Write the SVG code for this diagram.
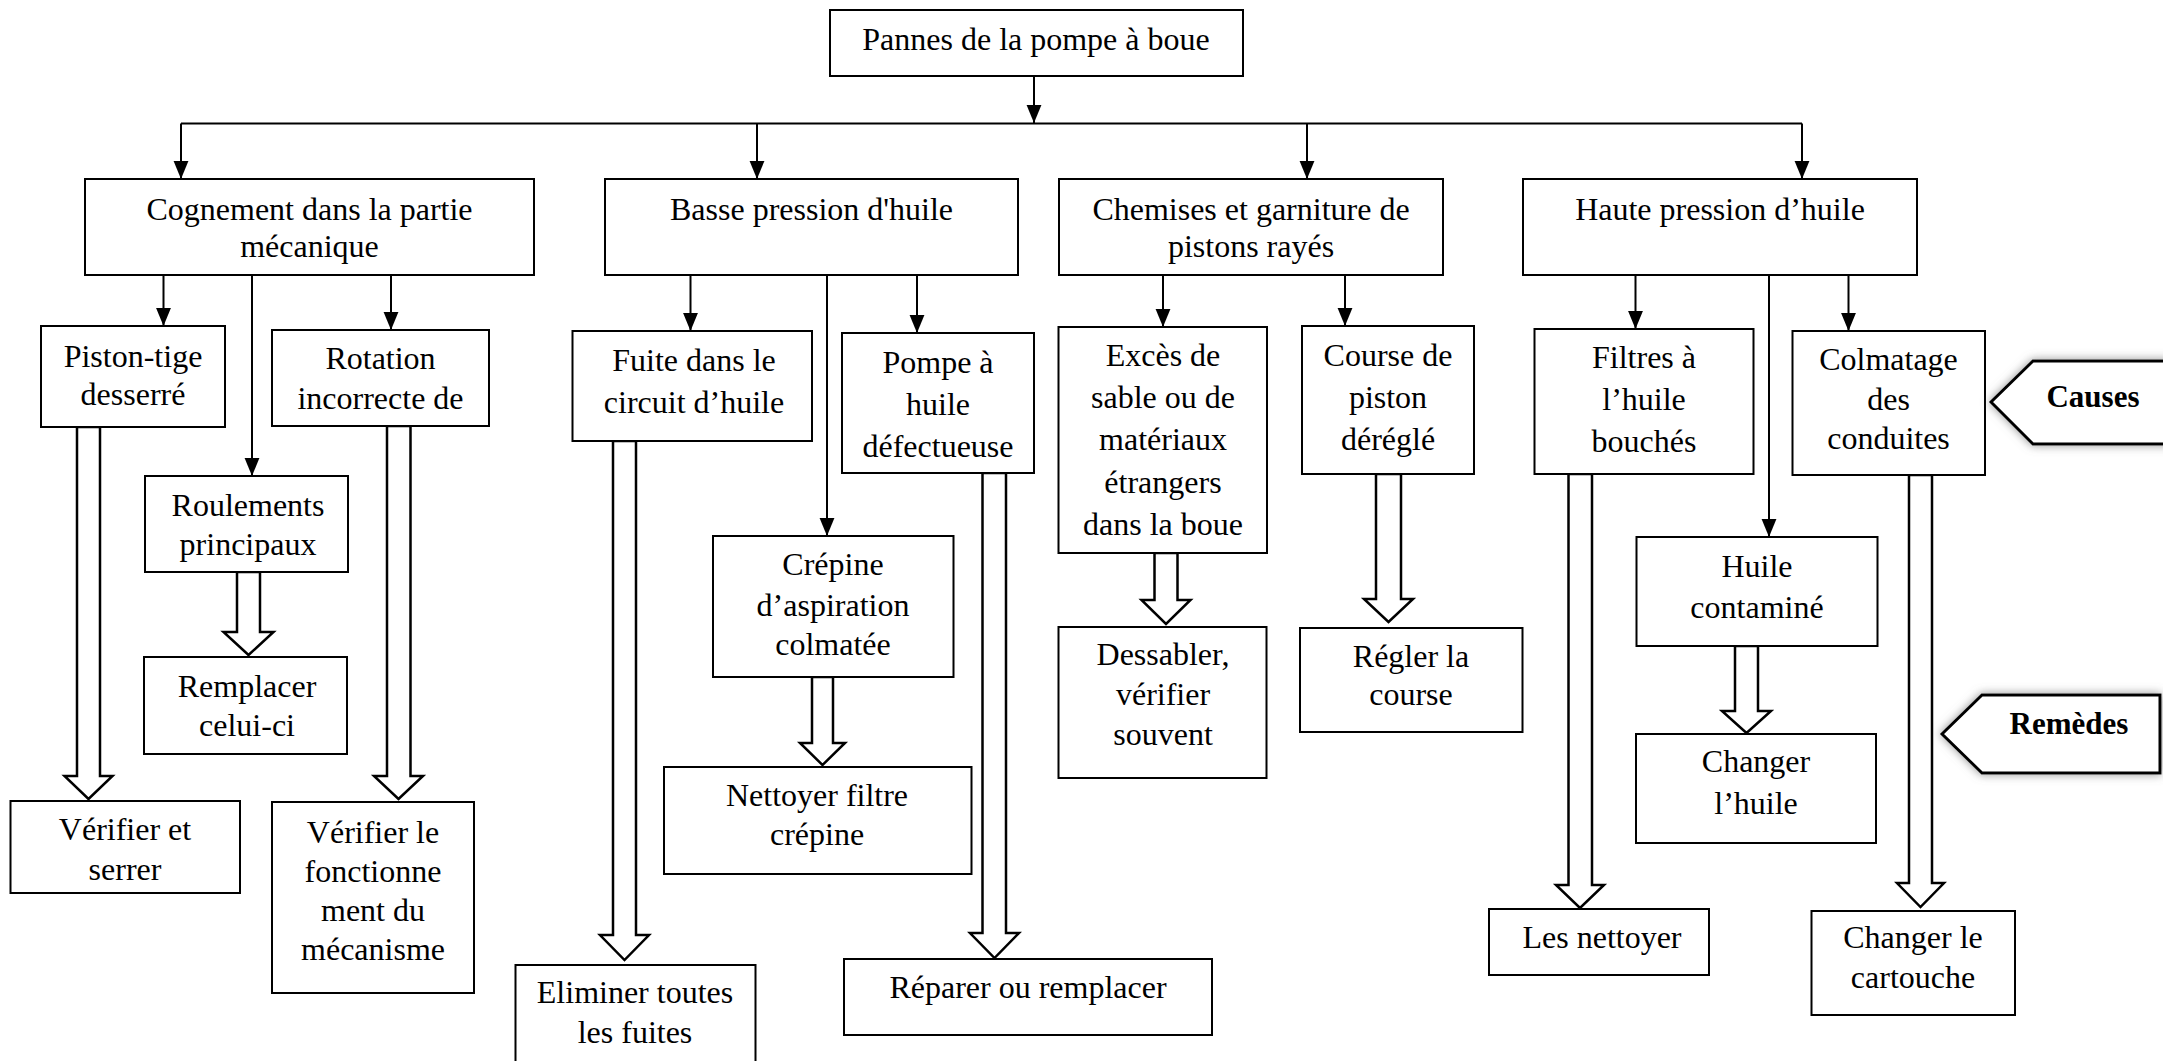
<svg xmlns="http://www.w3.org/2000/svg" width="2163" height="1061" viewBox="0 0 2163 1061">
<style>
.box{fill:#fff;stroke:#000;stroke-width:2}
.t{font-family:"Liberation Serif","Times New Roman",serif;font-size:32px;fill:#000;text-anchor:middle}
.lbl{font-family:"Liberation Serif","Times New Roman",serif;font-size:31px;font-weight:bold;fill:#000;text-anchor:middle}
.ln{fill:none;stroke:#000;stroke-width:2}
.hol{fill:#fff;stroke:#000;stroke-width:2.5;stroke-linejoin:miter}
.tag{fill:#fff;stroke:#000;stroke-width:3;filter:url(#sh)}
</style>
<defs>
<marker id="ah" markerUnits="userSpaceOnUse" markerWidth="18" markerHeight="16" refX="17" refY="7" orient="auto" viewBox="0 0 17 14">
<path d="M0,0 L17,7 L0,14 Z" fill="#000"/>
</marker>
<filter id="sh" x="-20%" y="-40%" width="140%" height="180%">
<feDropShadow dx="0" dy="0" stdDeviation="5" flood-color="#777" flood-opacity="0.8"/>
</filter>
</defs>
<rect width="2163" height="1061" fill="#fff"/>

<g id="connectors">
<line class="ln" x1="1034" y1="76" x2="1034" y2="123" marker-end="url(#ah)"/>
<line class="ln" x1="181" y1="123.5" x2="1802" y2="123.5"/>
<line class="ln" x1="181" y1="123.5" x2="181" y2="179" marker-end="url(#ah)"/>
<line class="ln" x1="757" y1="123.5" x2="757" y2="179" marker-end="url(#ah)"/>
<line class="ln" x1="1307" y1="123.5" x2="1307" y2="179" marker-end="url(#ah)"/>
<line class="ln" x1="1802" y1="123.5" x2="1802" y2="179" marker-end="url(#ah)"/>
<line class="ln" x1="163.5" y1="275" x2="163.5" y2="326" marker-end="url(#ah)"/>
<line class="ln" x1="252" y1="275" x2="252" y2="476" marker-end="url(#ah)"/>
<line class="ln" x1="391" y1="275" x2="391" y2="330" marker-end="url(#ah)"/>
<line class="ln" x1="690.5" y1="275" x2="690.5" y2="331" marker-end="url(#ah)"/>
<line class="ln" x1="827" y1="275" x2="827" y2="536" marker-end="url(#ah)"/>
<line class="ln" x1="917" y1="275" x2="917" y2="333" marker-end="url(#ah)"/>
<line class="ln" x1="1163" y1="275" x2="1163" y2="327" marker-end="url(#ah)"/>
<line class="ln" x1="1345" y1="275" x2="1345" y2="326" marker-end="url(#ah)"/>
<line class="ln" x1="1635.5" y1="275" x2="1635.5" y2="329" marker-end="url(#ah)"/>
<line class="ln" x1="1769" y1="275" x2="1769" y2="537" marker-end="url(#ah)"/>
<line class="ln" x1="1848.5" y1="275" x2="1848.5" y2="331" marker-end="url(#ah)"/>

<path class="hol" d="M77,427 L77,776 L64.5,776 L88.5,799 L112.5,776 L100,776 L100,427 Z"/>
<path class="hol" d="M387,426 L387,776 L374,776 L398.5,799 L423,776 L410.5,776 L410.5,426 Z"/>
<path class="hol" d="M237,572 L237,632 L223.5,632 L248.5,655 L273.5,632 L260,632 L260,572 Z"/>
<path class="hol" d="M613,441 L613,935 L600,935 L624.5,960 L649,935 L636,935 L636,441 Z"/>
<path class="hol" d="M812,677 L812,743 L800,743 L822.5,765 L845,743 L833,743 L833,677 Z"/>
<path class="hol" d="M982.5,473 L982.5,933 L970,933 L994.5,958 L1019,933 L1006,933 L1006,473 Z"/>
<path class="hol" d="M1154.5,553 L1154.5,600 L1141.5,600 L1166,624 L1190.5,600 L1177.5,600 L1177.5,553 Z"/>
<path class="hol" d="M1376,474 L1376,599 L1364,599 L1388.5,622 L1413,599 L1401,599 L1401,474 Z"/>
<path class="hol" d="M1568.5,474 L1568.5,885 L1556,885 L1580,908 L1604,885 L1592,885 L1592,474 Z"/>
<path class="hol" d="M1735,646 L1735,711 L1722,711 L1746.5,733 L1771,711 L1758,711 L1758,646 Z"/>
<path class="hol" d="M1909,475 L1909,883 L1897,883 L1920.5,907 L1944,883 L1932,883 L1932,475 Z"/>
</g>

<g id="n-root"><rect class="box" x="830" y="10" width="413" height="66"/><text class="t" x="1036" y="50">Pannes de la pompe à boue</text></g>

<g id="n-cognement"><rect class="box" x="85" y="179" width="449" height="96"/><text class="t" x="309.5" y="220">Cognement dans la partie</text><text class="t" x="309.5" y="257">mécanique</text></g>
<g id="n-basse"><rect class="box" x="605" y="179" width="413" height="96"/><text class="t" x="811.5" y="220">Basse pression d'huile</text></g>
<g id="n-chemises"><rect class="box" x="1059" y="179" width="384" height="96"/><text class="t" x="1251" y="220">Chemises et garniture de</text><text class="t" x="1251" y="257">pistons rayés</text></g>
<g id="n-haute"><rect class="box" x="1523" y="179" width="394" height="96"/><text class="t" x="1720" y="220">Haute pression d’huile</text></g>

<g id="n-piston"><rect class="box" x="41" y="326" width="184" height="101"/><text class="t" x="133" y="367">Piston-tige</text><text class="t" x="133" y="405">desserré</text></g>
<g id="n-rotation"><rect class="box" x="272" y="330" width="217" height="96"/><text class="t" x="380.5" y="369">Rotation</text><text class="t" x="380.5" y="409">incorrecte de</text></g>
<g id="n-roulements"><rect class="box" x="145" y="476" width="203" height="96"/><text class="t" x="248" y="516">Roulements</text><text class="t" x="248" y="555">principaux</text></g>
<g id="n-remplacer"><rect class="box" x="144" y="657" width="203" height="97"/><text class="t" x="247" y="697">Remplacer</text><text class="t" x="247" y="736">celui-ci</text></g>
<g id="n-verifier-serrer"><rect class="box" x="10.5" y="801" width="229.5" height="92"/><text class="t" x="125" y="840">Vérifier et</text><text class="t" x="125" y="880">serrer</text></g>
<g id="n-verifier-fonct"><rect class="box" x="272" y="802" width="202" height="191"/><text class="t" x="373" y="843">Vérifier le</text><text class="t" x="373" y="882">fonctionne</text><text class="t" x="373" y="921">ment du</text><text class="t" x="373" y="960">mécanisme</text></g>

<g id="n-fuite"><rect class="box" x="572.5" y="331" width="239.5" height="110"/><text class="t" x="694" y="371">Fuite dans le</text><text class="t" x="694" y="413">circuit d’huile</text></g>
<g id="n-pompe"><rect class="box" x="842" y="333" width="192" height="140"/><text class="t" x="938" y="373">Pompe à</text><text class="t" x="938" y="415">huile</text><text class="t" x="938" y="457">défectueuse</text></g>
<g id="n-crepine"><rect class="box" x="713" y="536" width="240.5" height="141"/><text class="t" x="833" y="575">Crépine</text><text class="t" x="833" y="616">d’aspiration</text><text class="t" x="833" y="655">colmatée</text></g>
<g id="n-nettoyer-filtre"><rect class="box" x="664" y="767" width="307.5" height="107"/><text class="t" x="817" y="806">Nettoyer filtre</text><text class="t" x="817" y="845">crépine</text></g>
<g id="n-eliminer"><rect class="box" x="515.5" y="965" width="240" height="100"/><text class="t" x="635" y="1003">Eliminer toutes</text><text class="t" x="635" y="1043">les fuites</text></g>
<g id="n-reparer"><rect class="box" x="844" y="959" width="368" height="76"/><text class="t" x="1028" y="998">Réparer ou remplacer</text></g>

<g id="n-exces"><rect class="box" x="1058.5" y="327" width="208.5" height="226"/><text class="t" x="1163" y="366">Excès de</text><text class="t" x="1163" y="408">sable ou de</text><text class="t" x="1163" y="450">matériaux</text><text class="t" x="1163" y="493">étrangers</text><text class="t" x="1163" y="535">dans la boue</text></g>
<g id="n-dessabler"><rect class="box" x="1058.5" y="627" width="208" height="151"/><text class="t" x="1163" y="665">Dessabler,</text><text class="t" x="1163" y="705">vérifier</text><text class="t" x="1163" y="745">souvent</text></g>
<g id="n-course"><rect class="box" x="1302" y="326" width="172" height="148"/><text class="t" x="1388" y="366">Course de</text><text class="t" x="1388" y="408">piston</text><text class="t" x="1388" y="450">déréglé</text></g>
<g id="n-regler"><rect class="box" x="1300" y="628" width="222.5" height="104"/><text class="t" x="1411" y="667">Régler la</text><text class="t" x="1411" y="705">course</text></g>

<g id="n-filtres"><rect class="box" x="1534.5" y="329" width="219" height="145"/><text class="t" x="1644" y="368">Filtres à</text><text class="t" x="1644" y="410">l’huile</text><text class="t" x="1644" y="452">bouchés</text></g>
<g id="n-colmatage"><rect class="box" x="1792.5" y="331" width="192.5" height="144"/><text class="t" x="1888.5" y="370">Colmatage</text><text class="t" x="1888.5" y="410">des</text><text class="t" x="1888.5" y="449">conduites</text></g>
<g id="n-huile-contamine"><rect class="box" x="1636.5" y="537" width="241" height="109"/><text class="t" x="1757" y="577">Huile</text><text class="t" x="1757" y="618">contaminé</text></g>
<g id="n-changer-huile"><rect class="box" x="1636" y="734" width="240" height="109"/><text class="t" x="1756" y="772">Changer</text><text class="t" x="1756" y="814">l’huile</text></g>
<g id="n-les-nettoyer"><rect class="box" x="1489" y="909" width="220" height="66"/><text class="t" x="1602" y="948">Les nettoyer</text></g>
<g id="n-changer-cartouche"><rect class="box" x="1811.5" y="911" width="203.5" height="104"/><text class="t" x="1913" y="948">Changer le</text><text class="t" x="1913" y="988">cartouche</text></g>

<g id="n-causes"><path class="tag" d="M2172,361 L2033,361 L1991,402 L2033,444 L2172,444"/><text class="lbl" x="2093" y="407">Causes</text></g>
<g id="n-remedes"><path class="tag" d="M2160,695 L1982,695 L1942,734 L1982,773 L2160,773 Z"/><text class="lbl" x="2069" y="734">Remèdes</text></g>
</svg>
